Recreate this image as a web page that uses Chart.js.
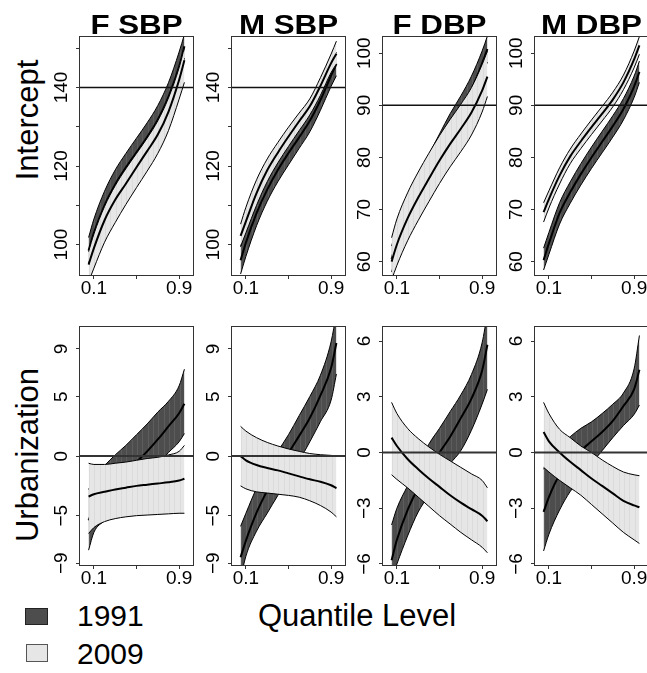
<!DOCTYPE html>
<html>
<head>
<meta charset="utf-8">
<script src="https://cdn.jsdelivr.net/npm/chart.js@4.4.0/dist/chart.umd.min.js"></script>
<style>
  body { margin: 0; background: #fff; }
  #page { position: relative; width: 647px; height: 673px; overflow: hidden;
          font-family: "Liberation Sans", Arial, Helvetica, sans-serif; }
  canvas { position: absolute; }
  .lab { position: absolute; color: #000; line-height: 1; white-space: nowrap; }
  .rot { transform: translate(-50%, -50%) rotate(-90deg); }
  .swatch { position: absolute; box-sizing: border-box; }
</style>
</head>
<body>
<div id="page">
  <div class="lab rot" id="rowLab0" style="left:27px; top:120px; font-size:31px;"></div>
  <div class="lab rot" id="rowLab1" style="left:27px; top:455px; font-size:31px;"></div>
  <div class="lab" id="xLab" style="left:357px; top:600px; font-size:31px; transform:translateX(-50%);"></div>
  <div class="swatch" style="left:25px; top:608px; width:23px; height:17px; background:#4d4d4d; border:1px solid #222;"></div>
  <div class="swatch" style="left:26px; top:644px; width:22px; height:18px; background:#e6e6e6; border:1px solid #555;"></div>
  <div class="lab" id="leg0" style="left:77px; top:601px; font-size:30px;"></div>
  <div class="lab" id="leg1" style="left:77px; top:639px; font-size:30px;"></div>
</div>
<script>
// ---- Data ----
const taus = [0.05, 0.1, 0.2, 0.3, 0.4, 0.5, 0.6, 0.7, 0.8, 0.9, 0.95];
const panelTitles = ['F SBP', 'M SBP', 'F DBP', 'M DBP'];
const rowTitles = ['Intercept', 'Urbanization'];
const years = ['1991', '2009'];
const xAxisTitle = 'Quantile Level';

const xTicks = [0.1, 0.5, 0.9];
const xTickLabels = ['0.1', '', '0.9'];

const sbpIntTicks = [100, 110, 120, 130, 140, 150];
const sbpIntLabels = ['100', '', '120', '', '140', ''];
const dbpIntTicks = [60, 70, 80, 90, 100];
const dbpIntLabels = ['60', '70', '80', '90', '100'];
const sbpUrbTicks = [-9, -5, 0, 5, 9];
const sbpUrbLabels = ['\u22129', '\u22125', '0', '5', '9'];
const dbpUrbTicks = [-6, -3, 0, 3, 6];
const dbpUrbLabels = ['\u22126', '\u22123', '0', '3', '6'];

const refIntercept = [140, 140, 90, 90];
const refUrban = [0, 0, 0, 0];

// F SBP intercept
const fsbpInt91Hi  = [101.8, 106.5, 113.6, 119.0, 123.2, 127.1, 131.0, 135.4, 141.2, 149.0, 153.5];
const fsbpInt91Mid = [98.5, 103.0, 110.0, 115.3, 119.6, 123.5, 127.4, 131.8, 137.6, 145.3, 150.5];
const fsbpInt91Lo  = [95.2, 99.5, 106.4, 111.6, 116.0, 119.9, 123.8, 128.2, 134.0, 141.6, 147.5];
const fsbpInt09Hi  = [98.2, 102.7, 109.7, 115.0, 119.3, 123.2, 127.1, 131.5, 137.3, 145.0, 150.2];
const fsbpInt09Mid = [94.9, 99.1, 106.2, 111.4, 115.5, 119.7, 123.8, 128.0, 133.8, 141.9, 146.9];
const fsbpInt09Lo  = [90.5, 94.0, 100.6, 105.6, 110.2, 114.5, 118.7, 123.2, 129.0, 137.0, 141.3];

// M SBP intercept
const msbpInt91Hi  = [99.5, 103.8, 111.2, 117.0, 122.0, 126.3, 130.2, 134.3, 139.5, 145.8, 149.0];
const msbpInt91Mid = [96.0, 100.5, 108.0, 114.0, 119.0, 123.3, 127.3, 131.5, 136.8, 143.0, 146.0];
const msbpInt91Lo  = [92.5, 97.0, 104.8, 111.0, 116.0, 120.3, 124.5, 128.7, 134.2, 140.3, 143.0];
const msbpInt09Hi  = [105.2, 109.5, 116.5, 121.8, 126.0, 129.9, 133.5, 137.1, 142.5, 148.5, 151.8];
const msbpInt09Mid = [102.2, 105.9, 113.1, 118.9, 123.4, 127.5, 131.4, 135.2, 140.4, 146.2, 148.6];
const msbpInt09Lo  = [99.5, 103.0, 110.0, 116.0, 120.8, 125.0, 129.0, 133.0, 138.0, 143.8, 146.0];

// F DBP intercept
const fdbpInt91Hi  = [63.0, 66.5, 71.5, 76.0, 80.5, 84.5, 88.4, 91.8, 95.6, 100.4, 103.3];
const fdbpInt91Mid = [60.5, 64.0, 69.0, 73.5, 78.0, 82.0, 85.7, 89.2, 93.0, 98.0, 100.8];
const fdbpInt91Lo  = [58.0, 61.5, 66.5, 71.0, 75.5, 79.5, 83.0, 86.6, 90.4, 95.6, 98.3];
const fdbpInt09Hi  = [64.6, 68.2, 73.2, 77.2, 80.8, 84.2, 87.3, 90.2, 93.4, 97.8, 100.4];
const fdbpInt09Mid = [60.0, 63.3, 68.3, 72.3, 75.9, 79.4, 82.6, 85.5, 88.6, 92.8, 95.5];
const fdbpInt09Lo  = [56.5, 59.3, 64.0, 67.9, 71.5, 75.0, 78.2, 81.1, 84.3, 88.7, 91.7];

// M DBP intercept
const mdbpInt91Hi  = [62.6, 65.6, 71.3, 75.3, 78.8, 82.0, 85.0, 88.0, 91.3, 95.6, 98.5];
const mdbpInt91Mid = [60.3, 63.5, 69.3, 73.3, 76.8, 80.0, 83.0, 86.0, 89.3, 93.6, 96.4];
const mdbpInt91Lo  = [58.4, 61.4, 67.2, 71.2, 74.7, 77.9, 80.9, 83.9, 87.2, 91.5, 94.4];
const mdbpInt09Hi  = [71.3, 73.6, 78.0, 81.6, 84.5, 87.2, 89.8, 92.5, 95.8, 100.4, 103.2];
const mdbpInt09Mid = [69.5, 72.0, 76.5, 80.2, 83.1, 85.8, 88.4, 91.1, 94.4, 98.8, 101.5];
const mdbpInt09Lo  = [67.6, 70.3, 74.9, 78.8, 81.7, 84.4, 87.0, 89.7, 93.0, 97.2, 99.8];

// F SBP urbanization
const fsbpUrb91Hi  = [-2.8, -1.9, -0.8, 0.1, 0.9, 1.8, 2.7, 3.7, 4.6, 5.9, 7.3];
const fsbpUrb91Mid = [-5.4, -4.3, -3.2, -2.2, -1.4, -0.5, 0.4, 1.4, 2.5, 3.6, 4.4];
const fsbpUrb91Lo  = [-7.9, -6.4, -5.4, -4.4, -3.6, -2.7, -1.8, -0.7, 0.3, 1.2, 1.9];
const fsbpUrb09Hi  = [-0.6, -0.7, -0.7, -0.6, -0.5, -0.35, -0.2, -0.1, 0.1, 0.4, 0.9];
const fsbpUrb09Mid = [-3.4, -3.2, -3.0, -2.8, -2.65, -2.5, -2.4, -2.3, -2.2, -2.05, -1.9];
const fsbpUrb09Lo  = [-6.5, -6.0, -5.5, -5.25, -5.1, -5.0, -4.95, -4.9, -4.85, -4.8, -4.8];

// M SBP urbanization
const msbpUrb91Hi  = [-5.9, -4.8, -2.7, -1.1, 0.4, 1.8, 3.4, 5.0, 6.8, 9.6, 12.0];
const msbpUrb91Mid = [-8.5, -7.1, -4.75, -2.9, -1.3, 0.25, 1.7, 3.2, 5.1, 7.4, 9.5];
const msbpUrb91Lo  = [-10.3, -8.4, -6.3, -4.8, -3.3, -1.9, -0.4, 1.2, 2.9, 4.7, 6.9];
const msbpUrb09Hi  = [2.5, 2.1, 1.55, 1.15, 0.85, 0.6, 0.4, 0.22, 0.12, 0.06, 0.03];
const msbpUrb09Mid = [0.0, -0.35, -0.75, -1.0, -1.2, -1.45, -1.7, -1.95, -2.15, -2.45, -2.7];
const msbpUrb09Lo  = [-2.5, -2.75, -3.0, -3.1, -3.2, -3.3, -3.45, -3.75, -4.15, -4.7, -5.1];

// F DBP urbanization
const fdbpUrb91Hi  = [-3.9, -3.0, -1.8, -0.7, 0.45, 1.3, 2.2, 3.1, 4.2, 5.9, 7.5];
const fdbpUrb91Mid = [-5.8, -4.7, -3.1, -1.9, -0.9, 0.0, 0.85, 1.85, 2.9, 4.4, 5.8];
const fdbpUrb91Lo  = [-6.8, -6.0, -4.5, -3.2, -2.3, -1.4, -0.6, 0.1, 1.2, 2.6, 3.4];
const fdbpUrb09Hi  = [2.7, 2.1, 1.3, 0.75, 0.3, -0.1, -0.45, -0.8, -1.15, -1.5, -1.9];
const fdbpUrb09Mid = [0.8, 0.35, -0.35, -0.9, -1.4, -1.85, -2.3, -2.7, -3.05, -3.4, -3.7];
const fdbpUrb09Lo  = [-1.2, -1.45, -1.9, -2.4, -2.9, -3.4, -3.85, -4.3, -4.7, -5.1, -5.4];

// M DBP urbanization
const mdbpUrb91Hi  = [-0.9, -0.4, 0.3, 0.85, 1.3, 1.65, 2.1, 2.6, 3.2, 4.5, 6.3];
const mdbpUrb91Mid = [-3.2, -2.4, -1.2, -0.5, 0.1, 0.6, 1.1, 1.7, 2.5, 3.4, 4.45];
const mdbpUrb91Lo  = [-5.3, -4.4, -3.1, -2.1, -1.4, -0.6, 0.1, 0.8, 1.45, 2.05, 2.55];
const mdbpUrb09Hi  = [2.7, 2.1, 1.25, 0.8, 0.35, 0.0, -0.4, -0.75, -1.05, -1.2, -1.25];
const mdbpUrb09Mid = [1.1, 0.6, 0.0, -0.5, -0.95, -1.4, -1.8, -2.2, -2.6, -2.85, -2.95];
const mdbpUrb09Lo  = [-0.8, -1.05, -1.5, -1.9, -2.3, -2.8, -3.3, -3.8, -4.3, -4.7, -4.9];

// ---- Layout ----
const FONT = '"Liberation Sans", Arial, Helvetica, sans-serif';
const DARK = '#4d4d4d';
const LIGHT = '#e6e6e6';
const X_MIN = -0.04, X_MAX = 1.04;
const panelLefts = [79, 231, 382, 534];
const rowTops = [36, 326];
const PANEL_W = 115, PANEL_H = 240;
const Y_AXIS_W = 40, X_AXIS_H = 30, PAD_R = 4;

// faint vertical seams like the original polygon strips
function stripes(base, seam) {
  const c = document.createElement('canvas');
  c.width = 16; c.height = 4;
  const g = c.getContext('2d');
  g.fillStyle = base;
  g.fillRect(0, 0, 16, 4);
  g.fillStyle = seam;
  [2, 7, 13].forEach(x => g.fillRect(x, 0, 1, 4));
  return g.createPattern(c, 'repeat');
}

const panelDecor = {
  id: 'panelDecor',
  afterDraw(chart, args, opts) {
    const { ctx, chartArea: a } = chart;
    const yScale = chart.scales.y;
    ctx.save();
    ctx.strokeStyle = '#333';
    ctx.lineWidth = 1;
    ctx.strokeRect(a.left + 0.5, a.top + 0.5, a.right - a.left - 1, a.bottom - a.top - 1);

    ctx.fillStyle = '#000';
    ctx.font = '19px ' + FONT;
    ctx.textAlign = 'center';
    ctx.textBaseline = 'middle';
    opts.yTicks.forEach((v, i) => {
      const label = opts.yLabels[i];
      if (!label) return;
      ctx.save();
      ctx.translate(a.left - 17, yScale.getPixelForValue(v));
      ctx.rotate(-Math.PI / 2);
      ctx.fillText(label, 0, 0);
      ctx.restore();
    });

    if (opts.title) {
      ctx.font = 'bold 27px ' + FONT;
      ctx.textBaseline = 'alphabetic';
      ctx.translate((a.left + a.right) / 2, a.top - 2);
      ctx.scale(1.16, 1);
      ctx.fillText(opts.title, 0, 0);
    }
    ctx.restore();
  }
};

function toPoints(arr) {
  return taus.map((t, i) => ({ x: t, y: arr[i] }));
}

function lineSet(arr, width, order, extra) {
  return Object.assign({
    data: toPoints(arr),
    borderColor: '#000',
    borderWidth: width,
    pointRadius: 0,
    fill: false,
    cubicInterpolationMode: 'monotone',
    tension: 0.4,
    capBezierPoints: false,
    order: order
  }, extra || {});
}

function makePanel(row, col, cfg) {
  const canvas = document.createElement('canvas');
  canvas.width = Y_AXIS_W + PANEL_W + PAD_R;
  canvas.height = rowTops[0] + PANEL_H + X_AXIS_H;
  canvas.style.left = (panelLefts[col] - Y_AXIS_W) + 'px';
  canvas.style.top = (rowTops[row] - rowTops[0]) + 'px';
  document.getElementById('page').appendChild(canvas);

  const datasets = [
    lineSet(cfg.hi91, 1, 6, { fill: 1, backgroundColor: stripes(DARK, '#5d5d5d') }),
    lineSet(cfg.lo91, 1, 5),
    lineSet(cfg.mid91, 2, 4),
    lineSet(cfg.hi09, 1, 3, { fill: 4, backgroundColor: stripes(LIGHT, '#dbdbdb') }),
    lineSet(cfg.lo09, 1, 2),
    lineSet(cfg.mid09, 2, 1),
    {
      data: [{ x: X_MIN, y: cfg.ref }, { x: X_MAX, y: cfg.ref }],
      borderColor: row === 0 ? '#111' : '#333',
      borderWidth: row === 0 ? 1.5 : 2,
      pointRadius: 0,
      fill: false,
      order: 0
    }
  ];

  new Chart(canvas.getContext('2d'), {
    type: 'line',
    data: { datasets: datasets },
    plugins: [panelDecor],
    options: {
      responsive: false,
      animation: false,
      devicePixelRatio: 1,
      layout: { padding: { left: 0, top: rowTops[0], right: PAD_R, bottom: 0 } },
      plugins: {
        legend: { display: false },
        tooltip: { enabled: false },
        panelDecor: { title: cfg.title, yTicks: cfg.yTicks, yLabels: cfg.yLabels }
      },
      scales: {
        x: {
          type: 'linear',
          min: X_MIN,
          max: X_MAX,
          afterBuildTicks: (scale) => { scale.ticks = xTicks.map(v => ({ value: v })); },
          afterFit: (scale) => { scale.height = X_AXIS_H; },
          ticks: {
            autoSkip: false,
            maxRotation: 0,
            minRotation: 0,
            padding: 0,
            color: '#000',
            font: { family: FONT, size: 19, lineHeight: 1 },
            callback: (value, index) => xTickLabels[index]
          },
          grid: { display: true, drawOnChartArea: false, drawTicks: true, tickLength: 3, color: '#333' },
          border: { display: false }
        },
        y: {
          type: 'linear',
          min: cfg.yMin,
          max: cfg.yMax,
          afterBuildTicks: (scale) => { scale.ticks = cfg.yTicks.map(v => ({ value: v })); },
          afterFit: (scale) => { scale.width = Y_AXIS_W; },
          ticks: { display: false },
          grid: { display: true, drawOnChartArea: false, drawTicks: true, tickLength: 3, color: '#333' },
          border: { display: false }
        }
      }
    }
  });
}

// ---- Build the 8 panels ----
document.getElementById('rowLab0').textContent = rowTitles[0];
document.getElementById('rowLab1').textContent = rowTitles[1];
document.getElementById('xLab').textContent = xAxisTitle;
document.getElementById('leg0').textContent = years[0];
document.getElementById('leg1').textContent = years[1];

makePanel(0, 0, { title: panelTitles[0], ref: refIntercept[0], yMin: 92.0, yMax: 153.1,
  yTicks: sbpIntTicks, yLabels: sbpIntLabels,
  hi91: fsbpInt91Hi, mid91: fsbpInt91Mid, lo91: fsbpInt91Lo, hi09: fsbpInt09Hi, mid09: fsbpInt09Mid, lo09: fsbpInt09Lo });
makePanel(0, 1, { title: panelTitles[1], ref: refIntercept[1], yMin: 92.0, yMax: 153.1,
  yTicks: sbpIntTicks, yLabels: sbpIntLabels,
  hi91: msbpInt91Hi, mid91: msbpInt91Mid, lo91: msbpInt91Lo, hi09: msbpInt09Hi, mid09: msbpInt09Mid, lo09: msbpInt09Lo });
makePanel(0, 2, { title: panelTitles[2], ref: refIntercept[2], yMin: 57.25, yMax: 103.3,
  yTicks: dbpIntTicks, yLabels: dbpIntLabels,
  hi91: fdbpInt91Hi, mid91: fdbpInt91Mid, lo91: fdbpInt91Lo, hi09: fdbpInt09Hi, mid09: fdbpInt09Mid, lo09: fdbpInt09Lo });
makePanel(0, 3, { title: panelTitles[3], ref: refIntercept[3], yMin: 57.25, yMax: 103.3,
  yTicks: dbpIntTicks, yLabels: dbpIntLabels,
  hi91: mdbpInt91Hi, mid91: mdbpInt91Mid, lo91: mdbpInt91Lo, hi09: mdbpInt09Hi, mid09: mdbpInt09Mid, lo09: mdbpInt09Lo });

makePanel(1, 0, { title: '', ref: refUrban[0], yMin: -9.23, yMax: 10.93,
  yTicks: sbpUrbTicks, yLabels: sbpUrbLabels,
  hi91: fsbpUrb91Hi, mid91: fsbpUrb91Mid, lo91: fsbpUrb91Lo, hi09: fsbpUrb09Hi, mid09: fsbpUrb09Mid, lo09: fsbpUrb09Lo });
makePanel(1, 1, { title: '', ref: refUrban[1], yMin: -9.23, yMax: 10.93,
  yTicks: sbpUrbTicks, yLabels: sbpUrbLabels,
  hi91: msbpUrb91Hi, mid91: msbpUrb91Mid, lo91: msbpUrb91Lo, hi09: msbpUrb09Hi, mid09: msbpUrb09Mid, lo09: msbpUrb09Lo });
makePanel(1, 2, { title: '', ref: refUrban[2], yMin: -6.11, yMax: 6.81,
  yTicks: dbpUrbTicks, yLabels: dbpUrbLabels,
  hi91: fdbpUrb91Hi, mid91: fdbpUrb91Mid, lo91: fdbpUrb91Lo, hi09: fdbpUrb09Hi, mid09: fdbpUrb09Mid, lo09: fdbpUrb09Lo });
makePanel(1, 3, { title: '', ref: refUrban[3], yMin: -6.11, yMax: 6.81,
  yTicks: dbpUrbTicks, yLabels: dbpUrbLabels,
  hi91: mdbpUrb91Hi, mid91: mdbpUrb91Mid, lo91: mdbpUrb91Lo, hi09: mdbpUrb09Hi, mid09: mdbpUrb09Mid, lo09: mdbpUrb09Lo });
</script>
</body>
</html>
